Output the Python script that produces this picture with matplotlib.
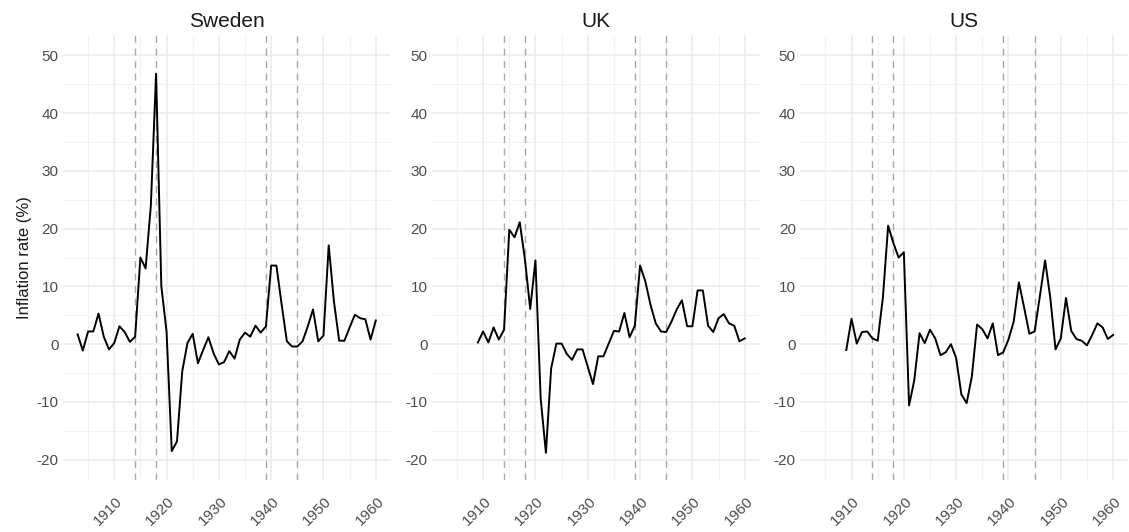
import matplotlib.pyplot as plt
import matplotlib.transforms as mtransforms
from matplotlib.ticker import MultipleLocator

plt.rcParams["font.family"] = ["Liberation Sans", "DejaVu Sans"]
plt.rcParams["axes.unicode_minus"] = False

countries = ["Sweden", "UK", "US"]

sweden_years = list(range(1903, 1961))
sweden_infl = [
    1.7, -1.1, 2.2, 2.2, 5.3, 1.3, -0.9, 0.2, 3.1, 2.1,
    0.4, 1.3, 15.0, 13.1, 24.0, 46.8, 10.1, 2.2, -18.5, -16.8,
    -4.7, 0.2, 1.8, -3.3, -1.0, 1.2, -1.6, -3.5, -3.1, -1.2,
    -2.5, 0.8, 2.0, 1.3, 3.2, 2.0, 3.1, 13.6, 13.6, 6.9,
    0.5, -0.4, -0.4, 0.5, 3.1, 6.0, 0.5, 1.5, 17.1, 7.4,
    0.6, 0.6, 2.9, 5.1, 4.5, 4.3, 0.8, 4.1,
]

uk_years = list(range(1909, 1961))
uk_infl = [
    0.3, 2.2, 0.3, 2.9, 0.8, 2.5, 19.8, 18.5, 21.1, 14.6,
    6.1, 14.5, -9.4, -18.8, -4.2, 0.1, 0.1, -1.7, -2.7, -0.9,
    -0.9, -3.9, -6.9, -2.1, -2.1, 0.1, 2.3, 2.2, 5.4, 1.2,
    3.2, 13.6, 10.9, 6.8, 3.6, 2.2, 2.1, 3.9, 6.0, 7.6,
    3.1, 3.1, 9.3, 9.3, 3.2, 2.1, 4.5, 5.2, 3.6, 3.2,
    0.5, 1.0,
]

us_years = list(range(1909, 1961))
us_infl = [
    -1.0, 4.4, 0.1, 2.1, 2.2, 1.0, 0.6, 8.1, 20.5, 17.5,
    15.0, 15.9, -10.6, -6.2, 1.9, 0.2, 2.5, 1.0, -1.9, -1.4,
    0.0, -2.4, -8.7, -10.2, -5.6, 3.4, 2.6, 1.0, 3.6, -1.9,
    -1.4, 0.8, 3.9, 10.7, 6.3, 1.8, 2.2, 8.3, 14.5, 8.0,
    -0.9, 1.0, 8.0, 2.3, 0.9, 0.6, -0.2, 1.6, 3.6, 2.9,
    0.9, 1.6,
]

war_years = [1914, 1918, 1939, 1945]

series = {
    "Sweden": (sweden_years, sweden_infl),
    "UK": (uk_years, uk_infl),
    "US": (us_years, us_infl),
}

fig = plt.figure(figsize=(11.29, 5.32), dpi=100)

# shared x range across facets, padded 5% like ggplot
x_min = min(min(y) for y, _ in series.values())
x_max = max(max(y) for y, _ in series.values())
x_pad = (x_max - x_min) * 0.05
y_lo, y_hi = -20, 50
y_pad = (y_hi - y_lo) * 0.05

shift = mtransforms.ScaledTranslation(6 / 100, 0, fig.dpi_scale_trans)

lefts = [62.7, 431.6, 800.0]
panel_w = 328.0
for left, name in zip(lefts, countries):
    years, infl = series[name]
    ax = fig.add_axes([left / 1129, 52 / 532, panel_w / 1129, 445 / 532])
    for yr in war_years:
        ax.axvline(yr, color="#a8a8a8", lw=1.0, ls=(0, (5, 4)), zorder=2)
    ax.plot(years, infl, color="black", lw=1.4, zorder=3)

    ax.set_xlim(x_min - x_pad, x_max + x_pad)
    ax.set_ylim(y_lo - y_pad, y_hi + y_pad)
    ax.xaxis.set_major_locator(MultipleLocator(10))
    ax.xaxis.set_minor_locator(MultipleLocator(5))
    ax.yaxis.set_major_locator(MultipleLocator(10))
    ax.yaxis.set_minor_locator(MultipleLocator(5))
    ax.grid(which="major", color="#ebebeb", lw=1.1, zorder=0)
    ax.grid(which="minor", color="#f2f2f2", lw=0.7, zorder=0)
    ax.set_axisbelow(True)
    for s in ax.spines.values():
        s.set_visible(False)
    ax.tick_params(which="both", length=0, labelsize=11, labelcolor="#4d4d4d")
    ax.tick_params(axis="y", pad=3)
    ax.tick_params(axis="x", pad=14)
    for lbl in ax.get_xticklabels():
        lbl.set_rotation(45)
        lbl.set_ha("right")
        lbl.set_va("center")
        lbl.set_rotation_mode("anchor")
        lbl.set_transform(lbl.get_transform() + shift)
    ax.set_title(name, fontsize=15, color="#1a1a1a", pad=6)
    if name == "Sweden":
        ax.set_ylabel("Inflation rate (%)", fontsize=12, color="#1a1a1a", labelpad=3)

fig.savefig("out.png", dpi=100, facecolor="white")
plt.close(fig)
